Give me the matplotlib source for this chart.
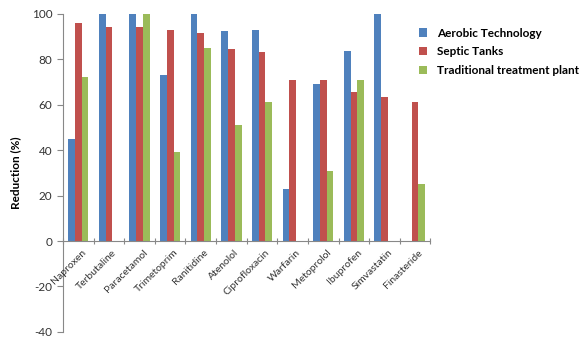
import numpy as np
import matplotlib.pyplot as plt

plt.rcParams['font.family'] = ['Lato', 'DejaVu Sans']
plt.rcParams['axes.unicode_minus'] = False

# dados
drugs = ['Naproxen', 'Terbutaline', 'Paracetamol', 'Trimetoprim', 'Ranitidine', 'Atenolol',
         'Ciprofloxacin', 'Warfarin', 'Metoprolol', 'Ibuprofen', 'Simvastatin', 'Finasteride']
aerobic = [45, 100, 100, 73, 100, 92.5, 93, 23, 69, 83.5, 100, 0]
septic = [96, 94, 94, 93, 91.5, 84.5, 83, 71, 71, 65.5, 63.5, 61]
traditional = [72, 0, 100, 39, 85, 51, 61, 0, 31, 71, 0, 25]

labels = ['Aerobic Technology', 'Septic Tanks', 'Traditional treatment plant']
colors = ['#4F81BD', '#C0504D', '#9BBB59']

fig = plt.figure(figsize=(5.86, 3.38), dpi=100)
ax = fig.add_axes([0.1075, 0.018, 0.627, 0.941])

x = np.arange(len(drugs))
w = 0.22
for i, (serie, c, lab) in enumerate(zip([aerobic, septic, traditional], colors, labels)):
    ax.bar(x + (i - 1) * w, serie, w, color=c, label=lab)

ax.set_xlim(-0.5, len(drugs) - 0.5)
ax.set_ylim(-40, 100)
ax.set_yticks(range(-40, 101, 20))
ax.tick_params(axis='y', labelsize=8.5, length=4, color='#888888', labelcolor='#333333')

# eixo das categorias passa pelo zero
ax.spines['bottom'].set_position(('data', 0))
for s in ['top', 'right']:
    ax.spines[s].set_visible(False)
for s in ['left', 'bottom']:
    ax.spines[s].set_color('#888888')

ax.set_xticks(np.arange(len(drugs) + 1) - 0.5)
ax.set_xticklabels([])
ax.tick_params(axis='x', length=4, color='#888888', direction='inout')
for xi, name in zip(x, drugs):
    ax.text(xi + 0.1, -3, name, rotation=45, ha='right', va='top',
            rotation_mode='anchor', fontsize=7.5, color='#333333')

ax.set_ylabel('Reduction (%)', fontsize=8.5, fontweight='bold')
ax.yaxis.set_label_coords(-0.115, 0.5)

leg = fig.legend(loc='upper left', bbox_to_anchor=(0.697, 0.95), frameon=False,
                 prop={'weight': 'bold', 'size': 8.5}, handlelength=0.7, handleheight=0.7,
                 labelspacing=0.65, handletextpad=0.8)

fig.savefig('out.png', dpi=100)
